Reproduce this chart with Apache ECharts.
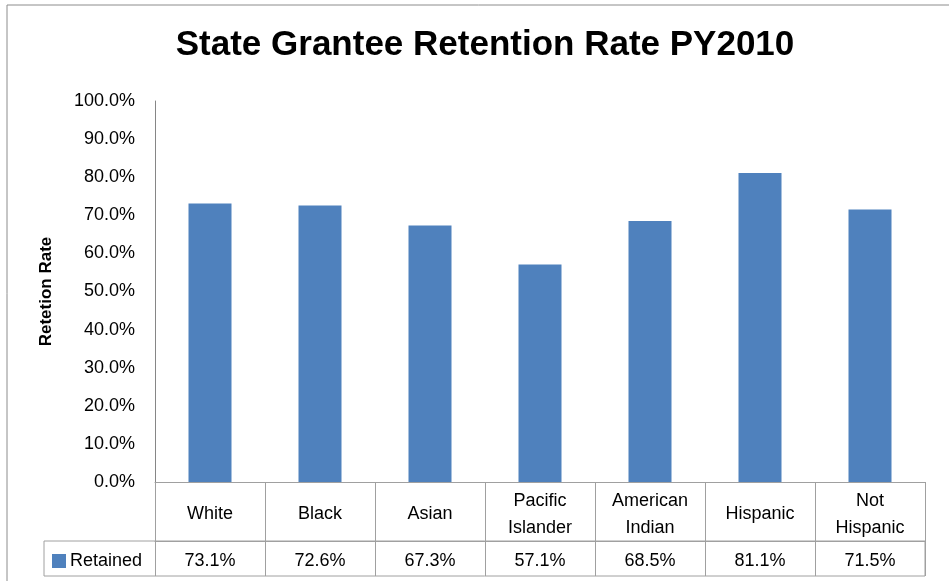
<!DOCTYPE html>
<html>
<head>
<meta charset="utf-8">
<script src="https://cdn.jsdelivr.net/npm/echarts@6/dist/echarts.min.js"></script>
<style>
  html, body { margin: 0; padding: 0; background: #fff; }
  #chart { width: 949px; height: 581px; }
</style>
</head>
<body>
<div id="chart"></div>
<script>
const categories = ['White', 'Black', 'Asian', 'Pacific\nIslander', 'American\nIndian', 'Hispanic', 'Not\nHispanic']
const retained = [73.1, 72.6, 67.3, 57.1, 68.5, 81.1, 71.5]
const seriesName = 'Retained'

const font = 'Liberation Sans'
const lineColor = '#a0a0a0'

// plot area, in px
const gridLeft = 155, gridRight = 24, gridTop = 101, gridBottom = 99
const W = 949, H = 581
const axisY = H - gridBottom
const headRow = 59, dataRow = 35

let myChart = echarts.init(document.getElementById('chart'))
myChart.setOption({
  animation: false,
  title: {
    text: 'State Grantee Retention Rate PY2010',
    left: 480,
    top: 23,
    textAlign: 'center',
    textStyle: { fontFamily: font, fontSize: 35, fontWeight: 'bold', color: '#000' },
  },
  legend: {
    data: [seriesName],
    left: 52,
    top: axisY + headRow + 11,
    padding: 0,
    icon: 'rect',
    itemWidth: 14,
    itemHeight: 14,
    itemGap: 4,
    textStyle: { fontFamily: font, fontSize: 18, color: '#000', padding: [0, 0, 0, -1] },
    selectedMode: false,
  },
  grid: { left: gridLeft, right: gridRight, top: gridTop, bottom: gridBottom },
  xAxis: [
    {
      type: 'category',
      data: categories,
      position: 'bottom',
      axisLine: { lineStyle: { color: lineColor } },
      axisTick: { show: true, interval: 0, length: headRow + dataRow, lineStyle: { color: lineColor } },
      axisLabel: {
        interval: 0,
        margin: headRow / 2 + 3,
        verticalAlign: 'middle',
        lineHeight: 27,
        fontFamily: font,
        fontSize: 18,
        color: '#000',
      },
    },
    {
      type: 'category',
      data: retained.map(v => v.toFixed(1) + '%'),
      position: 'bottom',
      offset: headRow,
      axisLine: { show: true, lineStyle: { color: lineColor } },
      axisTick: { show: false },
      axisLabel: {
        interval: 0,
        margin: dataRow / 2 + 3,
        verticalAlign: 'middle',
        fontFamily: font,
        fontSize: 18,
        color: '#000',
      },
    },
  ],
  yAxis: {
    type: 'value',
    min: 0,
    max: 100,
    interval: 10,
    name: 'Retetion Rate',
    nameLocation: 'middle',
    nameGap: 100,
    nameTextStyle: { fontFamily: font, fontSize: 17, fontWeight: 'bold', color: '#000' },
    axisLine: { show: true, lineStyle: { color: '#868686' } },
    axisTick: { show: false },
    splitLine: { show: false },
    axisLabel: {
      margin: 20,
      fontFamily: font,
      fontSize: 18,
      color: '#000',
      formatter: v => v.toFixed(1) + '%',
    },
  },
  graphic: {
    elements: [
      // chart frame
      {
        type: 'rect',
        shape: { x: 7, y: 5, width: W, height: H },
        style: { fill: 'none', stroke: '#8c8c8c', lineWidth: 1 },
        silent: true,
      },
      // data table row
      {
        type: 'rect',
        shape: { x: 44, y: axisY + headRow, width: W - gridRight - 44, height: dataRow },
        style: { fill: 'none', stroke: lineColor, lineWidth: 1 },
        silent: true,
      },
    ],
  },
  series: [
    {
      name: seriesName,
      type: 'bar',
      data: retained,
      barWidth: 43,
      itemStyle: { color: '#4f81bd' },
    },
  ],
})
</script>
</body>
</html>
